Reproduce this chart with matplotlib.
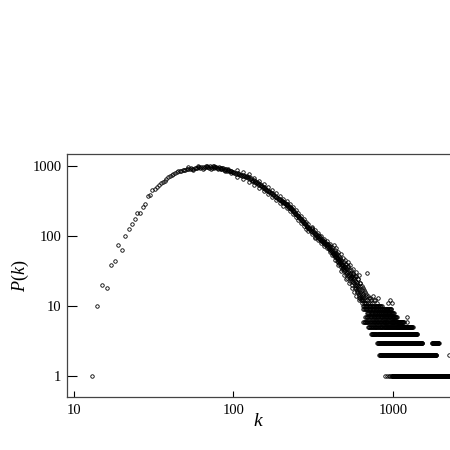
import numpy as np
from matplotlib import pyplot as plt

plt.rcParams['font.family'] = ['Liberation Serif', 'DejaVu Serif']
plt.rcParams['mathtext.fontset'] = 'custom'
plt.rcParams['mathtext.it'] = 'Liberation Serif:italic'
plt.rcParams['mathtext.rm'] = 'Liberation Serif'

# rising part and peak, one point per degree k
k_low = [13, 14, 15, 16, 17, 18, 19, 20, 21, 22, 23, 24, 25, 26, 27, 28, 29, 30,
         31, 32, 33, 34, 35, 36, 37, 38, 39, 40, 41, 42, 43, 44, 45, 46, 47, 48,
         49, 50, 51, 52, 53, 54, 55, 56, 57, 58, 59, 60, 61, 62, 63, 64, 65, 66,
         67, 68, 69, 70, 71, 72, 73, 74, 75, 76, 77, 78, 79, 80, 81, 82, 83, 84,
         85, 86, 87, 88, 89, 90, 91, 92, 93, 94, 95, 96, 97, 98, 99]
p_low = [1, 10, 20, 18, 38, 44, 74, 63, 99, 125, 148, 177, 211, 214, 260, 286, 373, 385,
         455, 464, 500, 541, 566, 590, 617, 660, 690, 719, 740, 769, 790, 818, 840, 857, 850, 870,
         880, 890, 900, 905, 915, 930, 910, 920, 950, 945, 930, 955, 965, 940, 975, 970, 945, 958,
         990, 975, 955, 950, 985, 965, 940, 985, 960, 940, 975, 960, 925, 936, 955, 950, 915, 900,
         935, 925, 890, 880, 905, 895, 860, 870, 880, 860, 845, 835, 850, 821, 830]

# falling part
k_mid = [100, 101, 103, 104, 106, 107, 109, 110, 112, 113, 115, 116, 118, 119, 121, 122,
         124, 125, 127, 128, 130, 131, 133, 134, 136, 137, 139, 140, 142, 143, 145, 146,
         148, 149, 151, 152, 154, 155, 157, 158, 160, 162, 164, 166, 168, 170, 172, 174,
         176, 178, 180, 182, 184, 186, 188, 190, 192, 194, 196, 198, 200, 201, 202, 204,
         206, 208, 210, 212, 214, 215, 216, 218, 220, 222, 224, 226, 228, 229, 230, 232,
         234, 236, 238, 240, 243, 244, 246, 249, 252, 255, 258, 259, 261, 264, 267, 270,
         273, 274, 276, 279, 282, 285, 288, 289, 291, 294, 297, 299, 300]
p_mid = [815, 790, 800, 775, 770, 795, 760, 740, 755, 730, 745, 715, 725, 705, 690, 710,
         670, 690, 650, 665, 640, 620, 610, 630, 590, 605, 570, 585, 555, 565, 540, 555,
         520, 535, 515, 500, 490, 505, 470, 485, 455, 450, 440, 445, 425, 420, 405, 410,
         395, 380, 385, 370, 360, 365, 350, 345, 335, 340, 325, 330, 315, 305, 320, 305,
         310, 298, 300, 285, 290, 282, 278, 270, 275, 262, 255, 260, 248, 252, 242, 245,
         232, 228, 222, 226, 212, 205, 208, 200, 196, 190, 185, 178, 180, 176, 168, 165,
         160, 162, 155, 152, 146, 143, 140, 135, 134, 132, 128, 131, 125]

k_high = [303, 306, 309, 311, 312, 315, 318, 321, 324, 326, 327, 330, 333, 336, 339, 342,
          343, 345, 348, 351, 354, 356, 357, 360, 363, 366, 369, 371, 372, 375, 378, 381,
          384, 387, 389, 390, 393, 396, 399, 402, 404, 405, 408, 411, 414, 417, 419, 420,
          423, 426, 429, 432, 435, 437, 438, 441, 444, 447, 450, 452, 453, 456, 459, 462,
          465, 467, 468, 471, 474, 477, 480, 482, 483, 486, 489, 492, 495, 497, 498]
p_high = [122, 118, 124, 128, 114, 116, 110, 113, 106, 98, 104, 108, 100, 98, 102, 95,
          100, 92, 96, 90, 88, 84, 92, 85, 83, 86, 80, 84, 78, 82, 76, 74,
          78, 72, 77, 70, 74, 68, 66, 70, 72, 64, 66, 62, 60, 64, 55, 58,
          62, 56, 54, 58, 52, 57, 50, 54, 48, 50, 46, 42, 49, 44, 46, 42,
          45, 48, 41, 39, 43, 38, 40, 34, 36, 39, 35, 37, 34, 40, 36]

# scattered points either side of the band
k_spread = [52, 56, 60, 64, 68, 72, 76, 80, 84, 88, 92, 96,
            105, 105, 115, 115, 125, 125, 135, 135, 145, 145, 155, 155, 165, 165,
            175, 175, 185, 185, 195, 195, 205, 205, 215, 215, 225, 225, 235, 235,
            245, 245, 255, 255, 265, 265, 275, 275, 285, 285, 295, 295, 310, 310,
            325, 325, 340, 340, 355, 355, 370, 370, 385, 385, 400, 400, 415, 415,
            430, 430, 445, 445, 460, 460, 475, 475, 490, 490,
            425, 440, 455, 470, 485, 500, 520, 540, 560, 590, 610,
            430, 450, 470, 490, 510, 530, 550, 570, 590, 610]
p_spread = [960, 890, 1000, 920, 1010, 920, 990, 905, 950, 850, 900, 800,
            880, 700, 830, 660, 760, 600, 670, 535, 610, 485, 555, 440, 500, 395,
            450, 355, 405, 322, 370, 293, 342, 272, 316, 250, 289, 230, 258, 205,
            232, 184, 213, 169, 195, 155, 177, 141, 160, 127, 146, 116, 134, 107,
            120, 95, 111, 88, 101, 80, 92, 73, 84, 67, 77, 60, 69, 54,
            63, 50, 56, 44, 51, 40, 46, 36, 42, 32,
            75, 68, 60, 55, 48, 45, 42, 38, 34, 31, 28,
            45, 38, 32, 28, 24, 21, 18, 16, 14, 12]

k_cloud = [501, 504, 507, 510, 513, 516, 519, 522, 525, 528, 531, 534, 537, 540, 543, 546,
           549, 552, 555, 558, 561, 564, 567, 570, 573, 576, 579, 582, 585, 588, 591, 594,
           597, 600, 603, 606, 609, 612, 615, 618, 621, 624, 627, 630, 633, 636, 639, 642,
           645, 648, 652, 656, 660, 665, 670, 676, 682, 690, 698, 705, 715, 725, 740, 760,
           790, 809, 935, 957, 985, 580, 602, 622, 641, 684,
           505, 515, 525, 535, 545, 555, 565, 575, 585, 595, 605, 615, 625, 635, 645,
           655, 665, 675, 695, 720, 745, 770]
p_cloud = [33, 35, 31, 29, 34, 30, 36, 28, 31, 27, 33, 29, 25, 28, 30, 26,
           24, 27, 23, 25, 29, 22, 24, 21, 26, 20, 23, 19, 22, 18, 21, 17,
           20, 19, 16, 18, 15, 17, 14, 19, 16, 13, 15, 14, 12, 17, 13, 11,
           14, 12, 15, 11, 13, 12, 11, 14, 11, 12, 11, 13, 11, 12, 11, 12,
           11, 13, 11, 12, 11, 27, 24, 21, 19, 30,
           40, 25, 37, 23, 33, 20, 30, 18, 27, 16, 24, 13, 21, 12, 18,
           17, 16, 15, 14, 13, 14, 12]

# tail: rows of degrees sharing a small count (count, first k, last k)
row_count = [10, 9, 8, 7, 6, 5, 4, 3, 3, 2, 1, 1]
row_start = [650, 650, 686, 667, 650, 697, 728, 795, 1760, 817, 890, 986]
row_end = [853, 985, 1014, 1059, 1173, 1333, 1412, 1521, 1940, 1863, 986, 2300]
row_step = [8, 8, 8, 8, 7, 7, 6, 6, 8, 6, 24, 4]
lone_k = [1224, 1224, 2250]
lone_p = [7, 6, 2]

k_tail = []
p_tail = []
for c, a, b, s in zip(row_count, row_start, row_end, row_step):
    ks = np.arange(a, b + 1, s)
    k_tail += list(ks)
    p_tail += [c] * len(ks)
k_tail += lone_k
p_tail += lone_p

k_all = k_low + k_mid + k_high + k_spread + k_cloud + k_tail
p_all = p_low + p_mid + p_high + p_spread + p_cloud + p_tail

fig = plt.figure(figsize=(4.5, 4.5), dpi=100)
ax = fig.add_axes([67 / 450, 53 / 450, 383 / 450, 243 / 450])
ax.plot(k_all, p_all, 'o', ms=2.5, mfc='none', mec='black', mew=0.6)

ax.set_xscale('log')
ax.set_yscale('log')
ax.set_xlim(9.04, 2277)
ax.set_ylim(0.501, 1484)
ax.set_xticks([10, 100, 1000])
ax.set_xticklabels(['10', '100', '1000'])
ax.set_yticks([1, 10, 100, 1000])
ax.set_yticklabels(['1', '10', '100', '1000'])
ax.minorticks_off()
ax.tick_params(axis='y', direction='in', length=7, width=0.8, labelsize=10.5, pad=4)
ax.tick_params(axis='x', direction='in', length=4, width=0.8, labelsize=10.5, pad=5)
ax.spines['right'].set_visible(False)
for s in ['left', 'bottom', 'top']:
    ax.spines[s].set_color('#444444')
    ax.spines[s].set_linewidth(0.9)

ax.set_ylabel('$P(k)$', fontsize=13, labelpad=1)
ax.set_xlabel('$k$', fontsize=14, labelpad=-3)

plt.savefig('out.png', dpi=100)
